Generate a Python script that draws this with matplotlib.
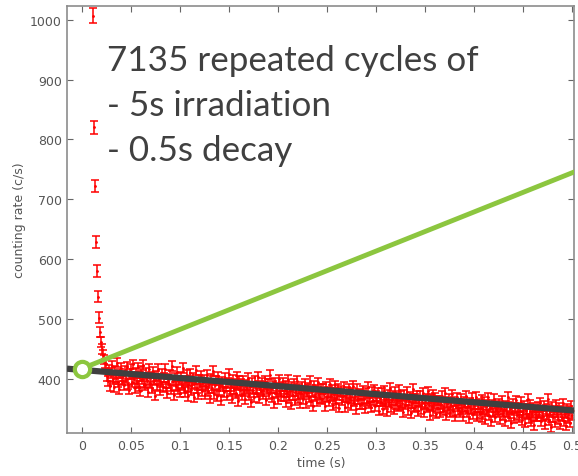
import numpy as np
import matplotlib
matplotlib.use("Agg")
import matplotlib.pyplot as plt

# Time bins (s): 1 ms bins from 12 ms to 500 ms after end of irradiation
bin_width = 0.001
t_first = 0.012
t_last = 0.500

# Counting rate (c/s) in the first bins, where the short-lived component dominates
rate_early = [1007, 820, 722, 628, 580, 537, 502, 478, 462, 450, 440, 432, 426]
err_early = [12, 11, 10.5, 10, 9.5, 9, 9, 8.5, 8.5, 8.5, 8, 8, 8]

# Counting rate (c/s) from 25 ms to 500 ms
rate_late = [
    425, 404, 396, 415, 388, 410, 421, 399, 386, 413, 402, 427, 394, 383, 409, 418, 397, 405, 389, 414,
    401, 420, 391, 382, 408, 416, 395, 424, 399, 385, 410, 393, 419, 388, 404, 379, 413, 400, 423, 392,
    389, 410, 398, 378, 417, 393, 403, 384, 412, 397, 372, 405, 390, 416, 400, 381, 394, 409, 386, 402,
    416, 387, 376, 399, 392, 407, 382, 421, 396, 373, 402, 388, 411, 383, 397, 377, 404, 390, 418, 385,
    378, 397, 406, 386, 371, 396, 409, 381, 391, 401, 369, 393, 414, 384, 374, 399, 389, 405, 380, 394,
    399, 375, 388, 406, 380, 392, 368, 400, 384, 413, 374, 390, 397, 371, 404, 381, 391, 364, 395, 387,
    378, 401, 387, 372, 393, 408, 379, 388, 367, 398, 383, 392, 376, 404, 389, 363, 396, 381, 391, 373,
    396, 379, 366, 390, 384, 401, 373, 387, 361, 394, 382, 369, 397, 385, 377, 403, 367, 389, 380, 393,
    374, 386, 397, 364, 382, 392, 375, 407, 384, 369, 388, 360, 394, 377, 385, 366, 399, 380, 371, 387,
    393, 371, 382, 361, 388, 378, 399, 367, 380, 357, 386, 373, 392, 364, 379, 396, 368, 383, 359, 376,
    386, 366, 379, 391, 359, 377, 385, 370, 397, 363, 378, 355, 389, 372, 381, 362, 394, 375, 368, 384,
    366, 384, 374, 355, 387, 369, 378, 362, 392, 371, 381, 356, 376, 366, 389, 359, 373, 384, 352, 377,
    380, 364, 372, 386, 353, 370, 379, 360, 384, 367, 356, 376, 388, 362, 371, 350, 383, 366, 375, 357,
    374, 358, 380, 366, 351, 377, 363, 386, 360, 369, 353, 378, 365, 382, 355, 371, 362, 376, 347, 368,
    362, 377, 350, 369, 380, 357, 366, 346, 373, 361, 385, 353, 365, 372, 349, 378, 358, 368, 355, 381,
    356, 371, 360, 345, 374, 357, 365, 378, 348, 363, 370, 343, 359, 383, 352, 367, 355, 372, 346, 362,
    372, 350, 361, 376, 344, 357, 367, 352, 379, 356, 340, 366, 354, 373, 346, 360, 369, 342, 364, 351,
    364, 344, 358, 371, 347, 353, 377, 340, 360, 350, 367, 345, 356, 374, 346, 362, 338, 357, 369, 348,
    359, 344, 366, 349, 338, 361, 353, 372, 345, 355, 335, 360, 350, 368, 341, 357, 347, 370, 337, 351,
    358, 341, 352, 365, 336, 350, 361, 333, 356, 346, 369, 340, 352, 330, 357, 344, 366, 336, 348, 355,
    345, 358, 333, 352, 363, 340, 349, 330, 355, 345, 370, 337, 350, 326, 347, 359, 335, 351, 364, 339,
    352, 336, 347, 361, 331, 344, 355, 327, 350, 341, 366, 334, 346, 357, 329, 343, 352, 323, 348, 338,
    337, 353, 342, 360, 329, 346, 338, 355, 325, 349, 340, 366, 331, 344, 320, 354, 336, 347, 328, 357,
    345, 333, 352, 324, 347, 337, 359, 329, 342, 322, 350, 335, 346, 327, 355, 339,
]
err_late = 8.0

# Fitted long-lived component (end points of the straight fit line)
fit_t = [-0.015, 0.503]
fit_rate = [417, 347]

# Extrapolated build-up line starting at the fitted rate at t = 0
build_t = [0.0, 0.503]
build_rate = [417, 746]

# Axis ticks
x_ticks = [0, 0.05, 0.1, 0.15, 0.2, 0.25, 0.3, 0.35, 0.4, 0.45, 0.5]
x_tick_labels = ["0", "0.05", "0.1", "0.15", "0.2", "0.25", "0.3", "0.35", "0.4", "0.45", "0.5"]
y_ticks = [400, 500, 600, 700, 800, 900, 1000]

note_text = "7135 repeated cycles of\n- 5s irradiation\n- 0.5s decay"

t = np.arange(round((t_last - t_first) / bin_width) + 1) * bin_width + t_first
rate = np.array(rate_early + rate_late, dtype=float)
err = np.concatenate([err_early, np.full(len(rate_late), err_late)])

fig = plt.figure(figsize=(5.78, 4.77), dpi=100)
ax = fig.add_axes([0.1164, 0.0895, 0.8772, 0.8958])

ax.errorbar(t, rate, yerr=err, fmt=".", color="#ff0000", ecolor="#ff0000",
            markersize=2, elinewidth=1.1, capsize=3.2, capthick=1.1, zorder=2)
ax.plot(fit_t, fit_rate, color="#404040", linewidth=4.5, solid_capstyle="butt", zorder=3)
ax.plot(build_t, build_rate, color="#8cc63f", linewidth=3.5, solid_capstyle="butt", zorder=4)
ax.plot(build_t[0], build_rate[0], marker="o", markersize=11, markerfacecolor="white",
        markeredgecolor="#8cc63f", markeredgewidth=3, zorder=5)

ax.set_xlim(-0.0147, 0.5027)
ax.set_ylim(309, 1023)
ax.set_xticks(x_ticks)
ax.set_xticklabels(x_tick_labels)
ax.set_yticks(y_ticks)

gray = "#555555"
for s in ax.spines.values():
    s.set_color("#8c8c8c")
    s.set_linewidth(1.2)
ax.tick_params(direction="in", length=4, width=0.8, color="#666666",
               top=True, right=True, labelsize=9, labelcolor=gray, pad=4)

ax.set_xlabel("time (s)", fontsize=9, color=gray, labelpad=3)
ax.set_ylabel("counting rate (c/s)", fontsize=9, color=gray, labelpad=3)

ax.text(0.078, 0.912, note_text, transform=ax.transAxes, fontsize=25.2,
        family="Lato", color="#404040", va="top", ha="left", linespacing=1.5)

fig.savefig("out.png", dpi=100)
